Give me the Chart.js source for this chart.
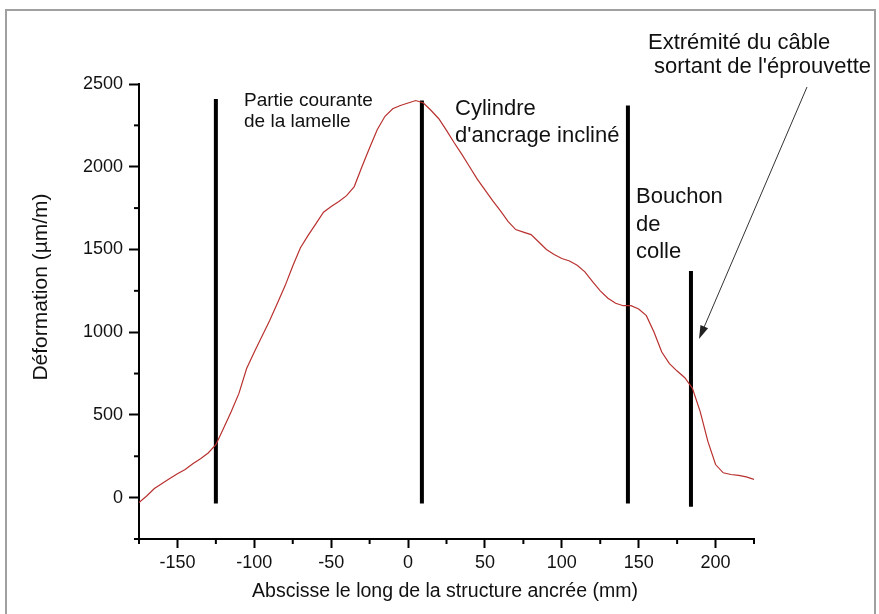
<!DOCTYPE html>
<html>
<head>
<meta charset="utf-8">
<script src="https://cdn.jsdelivr.net/npm/chart.js@4.4.0/dist/chart.umd.min.js"></script>
<style>
  html, body { margin: 0; padding: 0; background: #fff; }
  #wrap { width: 879px; height: 614px; }
</style>
</head>
<body>
<div id="wrap"><canvas id="chart" width="879" height="614"></canvas></div>
<script>
// abscisse (mm) et déformation (µm/m)
const positions = [
  -175, -170, -165, -160, -155, -150, -145, -140, -135, -130,
  -125, -120, -115, -110, -105, -100, -95, -90, -85, -80,
  -75, -70, -65, -60, -55, -50, -45, -40, -35, -30,
  -25, -20, -15, -10, -5, 0, 5, 10, 15, 20,
  25, 30, 35, 40, 45, 50, 55, 60, 65, 70,
  75, 80, 85, 90, 95, 100, 105, 110, 115, 120,
  125, 130, 135, 140, 145, 150, 155, 160, 165, 170,
  175, 180, 185, 190, 195, 200, 205, 210, 215, 220, 225
];
const deformation = [
  -30, 10, 55, 85, 115, 145, 170, 205, 235, 270,
  320, 420, 520, 630, 780, 880, 975, 1070, 1175, 1280,
  1400, 1510, 1585, 1655, 1725, 1760, 1790, 1825, 1880, 2000,
  2115, 2225, 2305, 2350, 2370, 2385, 2400, 2385, 2340, 2290,
  2220, 2145, 2075, 2000, 1925, 1860, 1795, 1735, 1670, 1620,
  1605, 1590, 1545, 1500, 1470, 1445, 1430, 1405, 1365, 1305,
  1250, 1205, 1175, 1160, 1160, 1140, 1100, 1000, 880, 810,
  765, 725, 660, 520, 340, 200, 150, 140, 135, 125, 110
];

// traits verticaux séparant les zones
const markerX = [-125, 9, 143, 184];
const markerBottom = [-35, -35, -35, -55];
const markerTop = [2410, 2400, 2370, 1370];

// graduations
const xTicks = [-150, -100, -50, 0, 50, 100, 150, 200];
const yTicks = [0, 500, 1000, 1500, 2000, 2500];
const xMinorTicks = [-175, -125, -75, -25, 25, 75, 125, 175, 225];
const yMinorTicks = [-250, 250, 750, 1250, 1750, 2250];

const xMin = -175, xMax = 225;
const yMin = -250, yMax = 2500;

const FONT = "'Liberation Sans', Arial, sans-serif";

const datasets = [{
  data: positions.map((x, i) => ({ x: x, y: deformation[i] })),
  borderColor: '#b8312f',
  borderWidth: 1.2,
  pointRadius: 0,
  tension: 0
}];
markerX.forEach((x, i) => {
  datasets.push({
    data: [{ x: x, y: markerBottom[i] }, { x: x, y: markerTop[i] }],
    borderColor: '#000',
    borderWidth: 4,
    pointRadius: 0
  });
});

function line(ctx, x1, y1, x2, y2) {
  ctx.beginPath();
  ctx.moveTo(x1, y1);
  ctx.lineTo(x2, y2);
  ctx.stroke();
}

const overlay = {
  id: 'overlay',
  afterDraw(chart) {
    const ctx = chart.ctx;
    const xs = chart.scales.x, ys = chart.scales.y;
    ctx.save();

    // cadre gris
    ctx.strokeStyle = '#a0a0a0';
    ctx.lineWidth = 2;
    ctx.strokeRect(6, 10, 869, 620);

    // petites graduations
    ctx.strokeStyle = '#000';
    ctx.lineWidth = 2;
    xMinorTicks.forEach(v => {
      const px = xs.getPixelForValue(v);
      line(ctx, px, ys.bottom, px, ys.bottom + 5);
    });
    yMinorTicks.forEach(v => {
      const py = ys.getPixelForValue(v);
      line(ctx, xs.left - 5, py, xs.left, py);
    });

    // titres des axes
    ctx.fillStyle = '#111';
    ctx.textBaseline = 'alphabetic';
    ctx.font = '19.5px ' + FONT;
    ctx.textAlign = 'center';
    ctx.fillText('Abscisse le long de la structure ancrée (mm)', 445, 597);
    ctx.save();
    ctx.translate(47, 287);
    ctx.rotate(-Math.PI / 2);
    ctx.font = '21px ' + FONT;
    ctx.fillText('Déformation (µm/m)', 0, 0);
    ctx.restore();

    // annotations
    ctx.textAlign = 'left';
    ctx.font = '19px ' + FONT;
    ctx.fillText('Partie courante', 244, 106);
    ctx.fillText('de la lamelle', 244, 127);
    ctx.font = '22px ' + FONT;
    ctx.fillText('Cylindre', 455, 115);
    ctx.fillText("d'ancrage incliné", 455, 142);
    ctx.fillText('Bouchon', 636, 203);
    ctx.fillText('de', 636, 231);
    ctx.fillText('colle', 636, 258);
    ctx.fillText('Extrémité du câble', 648, 49);
    ctx.fillText("sortant de l'éprouvette", 654, 73);

    // flèche
    const ax1 = 807, ay1 = 87, ax2 = 699, ay2 = 339;
    ctx.strokeStyle = '#333';
    ctx.lineWidth = 1;
    line(ctx, ax1, ay1, ax2 + 3, ay2 - 7);
    const ang = Math.atan2(ay2 - ay1, ax2 - ax1);
    ctx.fillStyle = '#222';
    ctx.beginPath();
    ctx.moveTo(ax2, ay2);
    ctx.lineTo(ax2 - 14 * Math.cos(ang - 0.3), ay2 - 14 * Math.sin(ang - 0.3));
    ctx.lineTo(ax2 - 14 * Math.cos(ang + 0.3), ay2 - 14 * Math.sin(ang + 0.3));
    ctx.closePath();
    ctx.fill();

    ctx.restore();
  }
};

const ctx = document.getElementById('chart').getContext('2d');
new Chart(ctx, {
  type: 'line',
  data: { datasets: datasets },
  options: {
    responsive: false,
    animation: false,
    devicePixelRatio: 1,
    layout: { padding: { left: 0, top: 84, right: 125, bottom: 0 } },
    plugins: { legend: { display: false }, tooltip: { enabled: false } },
    scales: {
      x: {
        type: 'linear',
        min: xMin,
        max: xMax,
        afterFit: s => { s.height = 75; },
        afterBuildTicks: axis => { axis.ticks = xTicks.map(v => ({ value: v })); },
        ticks: { color: '#111', font: { family: FONT, size: 18 }, padding: 4, maxRotation: 0, autoSkip: false, callback: v => String(v) },
        grid: { drawOnChartArea: false, drawTicks: true, tickLength: 9, tickWidth: 2, tickColor: '#000' },
        border: { display: true, color: '#000', width: 2 }
      },
      y: {
        type: 'linear',
        min: yMin,
        max: yMax,
        afterFit: s => { s.width = 139; },
        afterBuildTicks: axis => { axis.ticks = yTicks.map(v => ({ value: v })); },
        ticks: { color: '#111', font: { family: FONT, size: 18 }, padding: 6, autoSkip: false, callback: v => String(v) },
        grid: { drawOnChartArea: false, drawTicks: true, tickLength: 10, tickWidth: 2, tickColor: '#000' },
        border: { display: true, color: '#000', width: 2 }
      }
    }
  },
  plugins: [overlay]
});
</script>
</body>
</html>
